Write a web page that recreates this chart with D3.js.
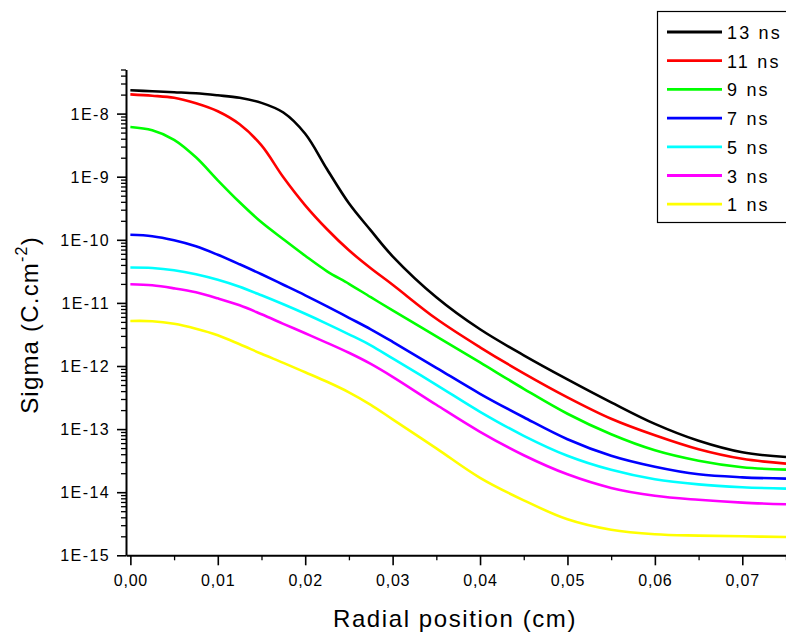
<!DOCTYPE html>
<html><head><meta charset="utf-8">
<script src="https://cdn.jsdelivr.net/npm/d3@7"></script>
<style>body{margin:0;background:#fff}svg{display:block}text{font-family:Arial,"Liberation Sans",sans-serif;fill:#000}</style>
</head><body><svg id="c" width="786" height="639"></svg>
<script>
const radialPos = [0,0.0025,0.005,0.0075,0.01,0.0125,0.015,0.0175,0.02,0.0225,0.025,0.0275,0.03,0.035,0.04,0.045,0.05,0.055,0.06,0.065,0.07,0.075];
const sigma13 = [2.34e-8,2.26e-8,2.18e-8,2.10e-8,1.95e-8,1.78e-8,1.48e-8,1.04e-8,4.79e-9,1.31e-9,3.79e-10,1.41e-10,5.48e-11,1.23e-11,3.82e-12,1.48e-12,6.15e-13,2.66e-13,1.21e-13,6.53e-14,4.29e-14,3.61e-14];
const sigma11 = [2.02e-8,1.92e-8,1.78e-8,1.46e-8,1.09e-8,6.77e-9,3.13e-9,9.79e-10,3.52e-10,1.47e-10,6.82e-11,3.54e-11,1.94e-11,5.60e-12,1.98e-12,7.66e-13,3.19e-13,1.46e-13,7.98e-14,4.79e-14,3.38e-14,2.84e-14];
const sigma9 = [6.13e-9,5.44e-9,3.85e-9,2.03e-9,8.77e-10,3.93e-10,1.89e-10,1.02e-10,5.58e-11,3.17e-11,2.01e-11,1.23e-11,7.63e-12,2.96e-12,1.14e-12,4.35e-13,1.75e-13,8.27e-14,4.61e-14,3.15e-14,2.48e-14,2.28e-14];
const sigma7 = [1.20e-10,1.14e-10,9.82e-11,7.89e-11,5.79e-11,4.09e-11,2.84e-11,1.94e-11,1.32e-11,8.83e-12,5.81e-12,3.82e-12,2.42e-12,9.37e-13,3.63e-13,1.54e-13,6.90e-14,3.78e-14,2.53e-14,1.92e-14,1.72e-14,1.64e-14];
const sigma5 = [3.63e-11,3.57e-11,3.29e-11,2.84e-11,2.32e-11,1.80e-11,1.32e-11,9.50e-12,6.72e-12,4.66e-12,3.18e-12,2.13e-12,1.32e-12,5.04e-13,1.88e-13,7.83e-14,3.78e-14,2.26e-14,1.60e-14,1.33e-14,1.20e-14,1.14e-14];
const sigma3 = [1.97e-11,1.90e-11,1.70e-11,1.47e-11,1.18e-11,9.16e-12,6.60e-12,4.66e-12,3.30e-12,2.33e-12,1.62e-12,1.08e-12,6.74e-13,2.43e-13,9.06e-14,3.85e-14,1.92e-14,1.17e-14,8.77e-15,7.58e-15,6.84e-15,6.43e-15];
const sigma1 = [5.17e-12,5.13e-12,4.66e-12,3.89e-12,3.07e-12,2.21e-12,1.56e-12,1.12e-12,7.95e-13,5.62e-13,3.83e-13,2.43e-13,1.43e-13,4.96e-14,1.69e-14,7.44e-15,3.72e-15,2.54e-15,2.15e-15,2.05e-15,2.00e-15,1.95e-15];

const seriesNames = ["13 ns","11 ns","9 ns","7 ns","5 ns","3 ns","1 ns"];
const seriesColors = ["#000000","#ff0000","#00ff00","#0000ff","#00ffff","#ff00ff","#ffff00"];
const seriesValues = [sigma13,sigma11,sigma9,sigma7,sigma5,sigma3,sigma1];

const xTicks = [0,0.01,0.02,0.03,0.04,0.05,0.06,0.07];
const xTickLabels = ["0,00","0,01","0,02","0,03","0,04","0,05","0,06","0,07"];
const xMinorTicks = [0.005,0.015,0.025,0.035,0.045,0.055,0.065,0.075];
const yTicks = [1e-15,1e-14,1e-13,1e-12,1e-11,1e-10,1e-9,1e-8];
const yTickLabels = ["1E-15","1E-14","1E-13","1E-12","1E-11","1E-10","1E-9","1E-8"];

const svg = d3.select("#c");
const x = d3.scaleLinear().domain([-0.0005, 0.075]).range([126, 786]);
const y = d3.scaleLog().domain([1e-15, 5e-8]).range([555.3, 69.5]);

const yMinor = [];
for (let e = -15; e <= -8; e++) for (let m = 2; m <= 9; m++) { const v = m * Math.pow(10, e); if (v <= 5e-8) yMinor.push(v); }

const gyMinor = svg.append("g").attr("transform","translate(126,0)")
  .call(d3.axisLeft(y).tickValues(yMinor).tickSize(5).tickSizeOuter(0).tickFormat(""));
gyMinor.select(".domain").remove();
gyMinor.selectAll("line").attr("stroke-width",1.3);

const gy = svg.append("g").attr("transform","translate(126,0)")
  .call(d3.axisLeft(y).tickValues(yTicks).tickSize(9).tickSizeOuter(0).tickFormat((d,i)=>yTickLabels[i]));
gy.select(".domain").attr("stroke-width",2);
gy.selectAll("line").attr("stroke-width",1.6);
gy.selectAll("text").attr("font-size","16px").attr("letter-spacing","1.4px").attr("x",-16).attr("dy","0.34em").attr("font-family","Arial, 'Liberation Sans', sans-serif");

const gxMinor = svg.append("g").attr("transform","translate(0,555.3)")
  .call(d3.axisBottom(x).tickValues(xMinorTicks).tickSize(5).tickSizeOuter(0).tickFormat(""));
gxMinor.select(".domain").remove();
gxMinor.selectAll("line").attr("stroke-width",1.3);

const gx = svg.append("g").attr("transform","translate(0,555.3)")
  .call(d3.axisBottom(x).tickValues(xTicks).tickSize(10).tickSizeOuter(0).tickFormat((d,i)=>xTickLabels[i]));
gx.select(".domain").attr("stroke-width",2);
gx.selectAll("line").attr("stroke-width",1.6);
gx.selectAll("text").attr("font-size","16px").attr("letter-spacing","0.8px").attr("y",19).attr("dy","0.71em").attr("font-family","Arial, 'Liberation Sans', sans-serif");

// curves
const line = d3.line().x((d,i)=>x(radialPos[i])).y(d=>y(d)).curve(d3.curveCatmullRom.alpha(0.5));
svg.append("g").selectAll("path").data(seriesValues.slice().reverse()).join("path")
  .attr("d", d=>line(d)).attr("fill","none")
  .attr("stroke",(d,i)=>seriesColors[seriesColors.length-1-i]).attr("stroke-width",2.6);

// axis titles
svg.append("text").attr("x",455).attr("y",627).attr("text-anchor","middle")
  .attr("font-size","24px").attr("letter-spacing","1.6px").text("Radial position (cm)");
const yt = svg.append("text").attr("transform","translate(38,325) rotate(-90)").attr("text-anchor","middle")
  .attr("font-size","24px").attr("letter-spacing","1.2px");
yt.append("tspan").text("Sigma (C.cm");
yt.append("tspan").attr("font-size","16px").attr("dy",-11).text("-2");
yt.append("tspan").attr("dy",11).text(")");

// legend
const lg = svg.append("g");
lg.append("rect").attr("x",657.5).attr("y",11.5).attr("width",140).attr("height",211)
  .attr("fill","#fff").attr("stroke","#000").attr("stroke-width",1.2);
seriesNames.forEach((n,i)=>{
  const yy = 32 + i*28.7;
  lg.append("line").attr("x1",667).attr("x2",722).attr("y1",yy).attr("y2",yy)
    .attr("stroke",seriesColors[i]).attr("stroke-width",2.8);
  lg.append("text").attr("x",727).attr("y",yy+7).attr("font-size","18px").attr("letter-spacing","2.2px").text(n);
});
</script></body></html>
